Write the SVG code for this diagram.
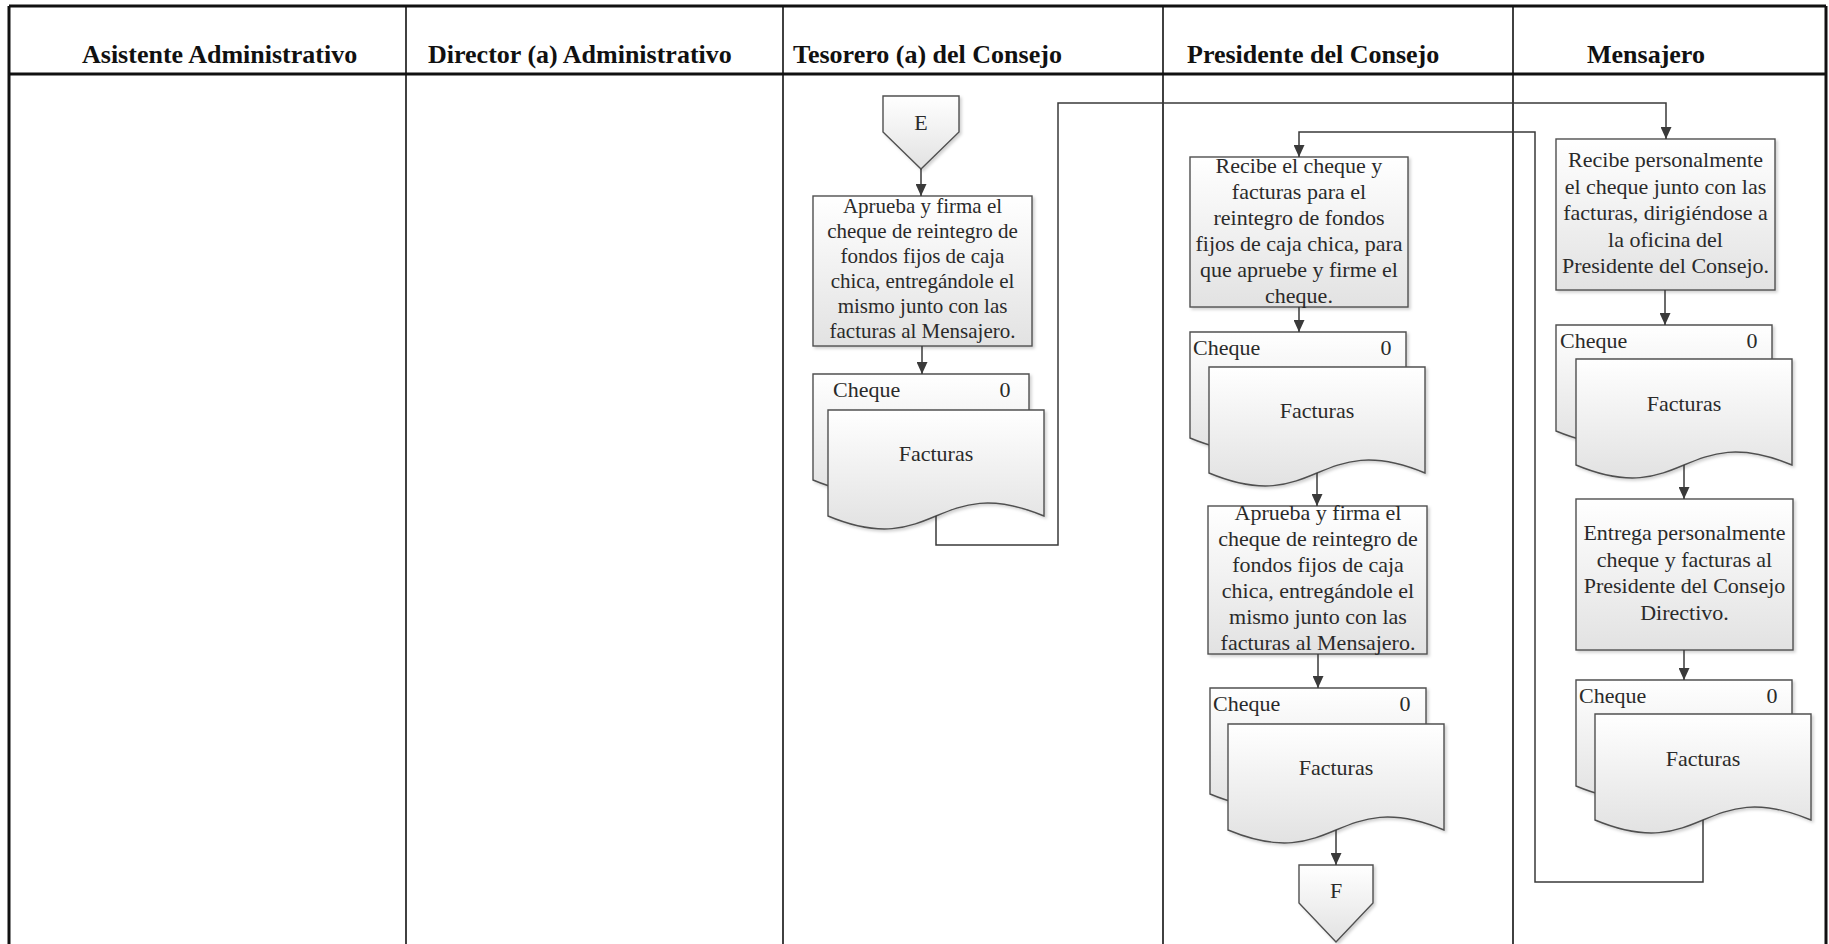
<svg xmlns="http://www.w3.org/2000/svg" width="1829" height="944" viewBox="0 0 1829 944">
  <defs>
    <linearGradient id="shade" x1="0" y1="0" x2="0" y2="1">
      <stop offset="0" stop-color="#ffffff"/>
      <stop offset="1" stop-color="#e2e2e2"/>
    </linearGradient>
    <filter id="drop" x="-10%" y="-10%" width="125%" height="130%">
      <feDropShadow dx="2" dy="2" stdDeviation="1.5" flood-color="#000" flood-opacity="0.18"/>
    </filter>
    <marker id="arrow" markerWidth="12" markerHeight="11" refX="12" refY="5.5" orient="auto" markerUnits="userSpaceOnUse">
      <path d="M0,0 L12,5.5 L0,11 Z" fill="#3a3a3a"/>
    </marker>
    <!-- document symbol: flat top, wavy bottom -->
    <path id="doc" d="M0,0 H216 V106 C108,61 108,151 0,106 Z"/>
  </defs>
  <style>
    .grid{stroke:#111;fill:none;stroke-width:1.6}
    .edge{stroke:#111;fill:none;stroke-width:3}
    .shape{fill:url(#shade);stroke:#505050;stroke-width:1.4;filter:url(#drop)}
    .hdr{font-family:"Liberation Serif","Times New Roman",serif;font-weight:bold;font-size:26px;fill:#111}
    .txt{font-family:"Liberation Serif","Times New Roman",serif;font-size:22px;fill:#2a2a2a;text-anchor:middle}
    .t21{font-size:21px}
    .lbl{font-family:"Liberation Serif","Times New Roman",serif;font-size:22px;fill:#2a2a2a}
    .mid{text-anchor:middle}
    .flow{fill:none;stroke:#3a3a3a;stroke-width:1.5;marker-end:url(#arrow)}
  </style>
  <rect width="1829" height="944" fill="#ffffff"/>

  <!-- swimlane table -->
  <g id="lanes">
    <line class="edge" x1="9" y1="6" x2="1826" y2="6"/>
    <line class="edge" x1="9" y1="74" x2="1826" y2="74"/>
    <line class="edge" x1="9" y1="6" x2="9" y2="944"/>
    <line class="edge" x1="1826" y1="6" x2="1826" y2="944"/>
    <line class="grid" x1="406" y1="6" x2="406" y2="944"/>
    <line class="grid" x1="783" y1="6" x2="783" y2="944"/>
    <line class="grid" x1="1163" y1="6" x2="1163" y2="944"/>
    <line class="grid" x1="1513" y1="6" x2="1513" y2="944"/>
    <text class="hdr" x="82" y="63">Asistente Administrativo</text>
    <text class="hdr" x="428" y="63">Director (a) Administrativo</text>
    <text class="hdr" x="793" y="63">Tesorero (a) del Consejo</text>
    <text class="hdr" x="1187" y="63">Presidente del Consejo</text>
    <text class="hdr" x="1587" y="63">Mensajero</text>
  </g>

  <!-- Tesorero (a) del Consejo -->
  <g id="conector-e">
    <path class="shape" d="M883,96 H959 V132 L921,169 L883,132 Z"/>
    <text class="txt" x="921" y="130" font-size="20">E</text>
  </g>
  <g id="tes-aprueba">
    <rect class="shape" x="813" y="196" width="219" height="150"/>
    <text class="txt t21" x="922.5" y="213">Aprueba y firma el</text>
    <text class="txt t21" x="922.5" y="238">cheque de reintegro de</text>
    <text class="txt t21" x="922.5" y="263">fondos fijos de caja</text>
    <text class="txt t21" x="922.5" y="288">chica, entregándole el</text>
    <text class="txt t21" x="922.5" y="313">mismo junto con las</text>
    <text class="txt t21" x="922.5" y="338">facturas al Mensajero.</text>
  </g>
  <g id="tes-documentos">
    <use href="#doc" class="shape" x="813" y="374"/>
    <use href="#doc" class="shape" x="828" y="410"/>
    <text class="lbl" x="833" y="397">Cheque</text>
    <text class="lbl mid" x="1005" y="397">0</text>
    <text class="lbl mid" x="936" y="461">Facturas</text>
  </g>

  <!-- Presidente del Consejo -->
  <g id="pre-recibe">
    <rect class="shape" x="1190" y="157" width="218" height="150"/>
    <text class="txt" x="1299" y="173">Recibe el cheque y</text>
    <text class="txt" x="1299" y="199">facturas para el</text>
    <text class="txt" x="1299" y="225">reintegro de fondos</text>
    <text class="txt" x="1299" y="251">fijos de caja chica, para</text>
    <text class="txt" x="1299" y="277">que apruebe y firme el</text>
    <text class="txt" x="1299" y="303">cheque.</text>
  </g>
  <g id="pre-documentos-1">
    <use href="#doc" class="shape" x="1190" y="332"/>
    <use href="#doc" class="shape" x="1209" y="367"/>
    <text class="lbl" x="1193" y="355">Cheque</text>
    <text class="lbl mid" x="1386" y="355">0</text>
    <text class="lbl mid" x="1317" y="418">Facturas</text>
  </g>
  <g id="pre-aprueba">
    <rect class="shape" x="1208" y="506" width="219" height="148"/>
    <text class="txt" x="1318" y="520">Aprueba y firma el</text>
    <text class="txt" x="1318" y="546">cheque de reintegro de</text>
    <text class="txt" x="1318" y="572">fondos fijos de caja</text>
    <text class="txt" x="1318" y="598">chica, entregándole el</text>
    <text class="txt" x="1318" y="624">mismo junto con las</text>
    <text class="txt" x="1318" y="650">facturas al Mensajero.</text>
  </g>
  <g id="pre-documentos-2">
    <use href="#doc" class="shape" x="1210" y="688"/>
    <use href="#doc" class="shape" x="1228" y="724"/>
    <text class="lbl" x="1213" y="711">Cheque</text>
    <text class="lbl mid" x="1405" y="711">0</text>
    <text class="lbl mid" x="1336" y="775">Facturas</text>
  </g>
  <g id="conector-f">
    <path class="shape" d="M1299,865 H1373 V903 L1336,942 L1299,903 Z"/>
    <text class="txt" x="1336" y="898" font-size="20">F</text>
  </g>

  <!-- Mensajero -->
  <g id="men-recibe">
    <rect class="shape" x="1556" y="139" width="219" height="151"/>
    <text class="txt" x="1665.5" y="167">Recibe personalmente</text>
    <text class="txt" x="1665.5" y="193.5">el cheque junto con las</text>
    <text class="txt" x="1665.5" y="220">facturas, dirigiéndose a</text>
    <text class="txt" x="1665.5" y="246.5">la oficina del</text>
    <text class="txt" x="1665.5" y="273">Presidente del Consejo.</text>
  </g>
  <g id="men-documentos-1">
    <use href="#doc" class="shape" x="1556" y="325"/>
    <use href="#doc" class="shape" x="1576" y="359"/>
    <text class="lbl" x="1560" y="348">Cheque</text>
    <text class="lbl mid" x="1752" y="348">0</text>
    <text class="lbl mid" x="1684" y="411">Facturas</text>
  </g>
  <g id="men-entrega">
    <rect class="shape" x="1576" y="499" width="217" height="151"/>
    <text class="txt" x="1684.5" y="540">Entrega personalmente</text>
    <text class="txt" x="1684.5" y="566.5">cheque y facturas al</text>
    <text class="txt" x="1684.5" y="593">Presidente del Consejo</text>
    <text class="txt" x="1684.5" y="619.5">Directivo.</text>
  </g>
  <g id="men-documentos-2">
    <use href="#doc" class="shape" x="1576" y="680"/>
    <use href="#doc" class="shape" x="1595" y="714"/>
    <text class="lbl" x="1579" y="703">Cheque</text>
    <text class="lbl mid" x="1772" y="703">0</text>
    <text class="lbl mid" x="1703" y="766">Facturas</text>
  </g>

  <!-- flow connectors -->
  <g id="connectors">
    <path class="flow" d="M921,169 V196"/>
    <path class="flow" d="M922,346 V374"/>
    <path class="flow" d="M936,516 V545 H1058 V103 H1666 V139"/>
    <path class="flow" d="M1665,290 V325"/>
    <path class="flow" d="M1684,465 V499"/>
    <path class="flow" d="M1684,650 V680"/>
    <path class="flow" d="M1703,820 V882 H1535 V132 H1299 V157"/>
    <path class="flow" d="M1299,307 V332"/>
    <path class="flow" d="M1317,473 V506"/>
    <path class="flow" d="M1318,654 V688"/>
    <path class="flow" d="M1336,830 V865"/>
  </g>
</svg>
